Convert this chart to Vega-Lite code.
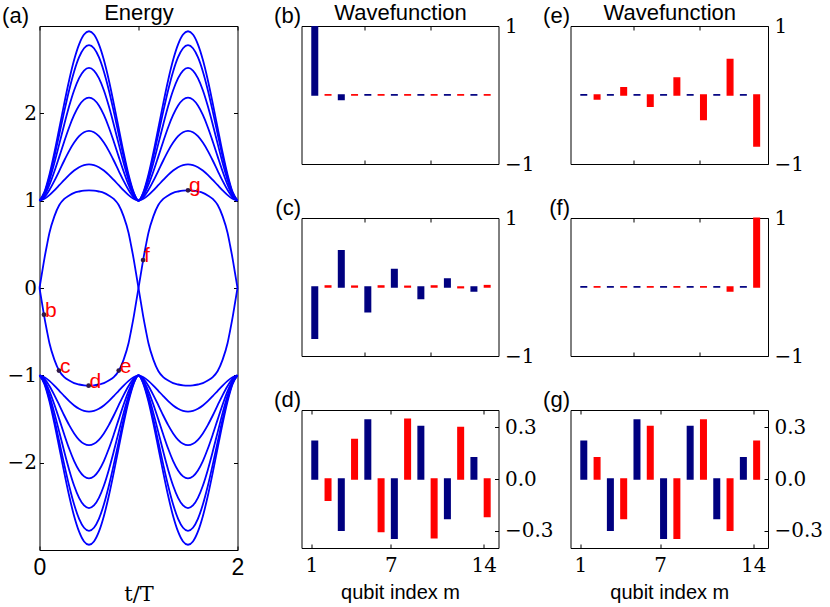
{
  "$schema": "https://vega.github.io/schema/vega-lite/v6.json",
  "background": "white",
  "padding": {"left": 0.5, "top": 0, "right": 0, "bottom": 0},
  "spacing": -13,
  "config": {
    "view": {"stroke": "#000000", "strokeWidth": 1},
    "axis": {"grid": false, "domain": false, "tickColor": "#000000", "tickSize": -4, "tickWidth": 1, "labelFont": "DejaVu Serif", "labelFontSize": 20, "labelColor": "#000000", "labelFlush": false, "labelOverlap": false, "titleFont": "Liberation Sans", "titleFontSize": 22, "titleFontWeight": "normal", "titleColor": "#000000"}
  },
  "datasets": {
    "bulk": [
      {"t":0,"U1":1,"U2":1,"U3":1,"U4":1,"U5":1,"U6":1,"L1":-1,"L2":-1,"L3":-1,"L4":-1,"L5":-1,"L6":-1},
      {"t":0.05,"U1":1.1,"U2":1.092,"U3":1.078,"U4":1.061,"U5":1.041,"U6":1.021,"L1":-1.1,"L2":-1.092,"L3":-1.078,"L4":-1.061,"L5":-1.041,"L6":-1.021},
      {"t":0.1,"U1":1.296,"U2":1.272,"U3":1.232,"U4":1.18,"U5":1.122,"U6":1.063,"L1":-1.296,"L2":-1.272,"L3":-1.232,"L4":-1.18,"L5":-1.122,"L6":-1.063},
      {"t":0.15,"U1":1.548,"U2":1.503,"U3":1.43,"U4":1.334,"U5":1.226,"U6":1.117,"L1":-1.548,"L2":-1.503,"L3":-1.43,"L4":-1.334,"L5":-1.226,"L6":-1.117},
      {"t":0.2,"U1":1.829,"U2":1.761,"U3":1.65,"U4":1.504,"U5":1.342,"U6":1.177,"L1":-1.829,"L2":-1.761,"L3":-1.65,"L4":-1.504,"L5":-1.342,"L6":-1.177},
      {"t":0.25,"U1":2.114,"U2":2.022,"U3":1.873,"U4":1.678,"U5":1.46,"U6":1.238,"L1":-2.114,"L2":-2.022,"L3":-1.873,"L4":-1.678,"L5":-1.46,"L6":-1.238},
      {"t":0.3,"U1":2.382,"U2":2.268,"U3":2.083,"U4":1.841,"U5":1.57,"U6":1.296,"L1":-2.382,"L2":-2.268,"L3":-2.083,"L4":-1.841,"L5":-1.57,"L6":-1.296},
      {"t":0.35,"U1":2.613,"U2":2.48,"U3":2.264,"U4":1.981,"U5":1.665,"U6":1.345,"L1":-2.613,"L2":-2.48,"L3":-2.264,"L4":-1.981,"L5":-1.665,"L6":-1.345},
      {"t":0.4,"U1":2.79,"U2":2.643,"U3":2.403,"U4":2.089,"U5":1.738,"U6":1.383,"L1":-2.79,"L2":-2.643,"L3":-2.403,"L4":-2.089,"L5":-1.738,"L6":-1.383},
      {"t":0.45,"U1":2.902,"U2":2.745,"U3":2.49,"U4":2.157,"U5":1.784,"U6":1.407,"L1":-2.902,"L2":-2.745,"L3":-2.49,"L4":-2.157,"L5":-1.784,"L6":-1.407},
      {"t":0.5,"U1":2.94,"U2":2.78,"U3":2.52,"U4":2.18,"U5":1.8,"U6":1.415,"L1":-2.94,"L2":-2.78,"L3":-2.52,"L4":-2.18,"L5":-1.8,"L6":-1.415},
      {"t":0.55,"U1":2.902,"U2":2.745,"U3":2.49,"U4":2.157,"U5":1.784,"U6":1.407,"L1":-2.902,"L2":-2.745,"L3":-2.49,"L4":-2.157,"L5":-1.784,"L6":-1.407},
      {"t":0.6,"U1":2.79,"U2":2.643,"U3":2.403,"U4":2.089,"U5":1.738,"U6":1.383,"L1":-2.79,"L2":-2.643,"L3":-2.403,"L4":-2.089,"L5":-1.738,"L6":-1.383},
      {"t":0.65,"U1":2.613,"U2":2.48,"U3":2.264,"U4":1.981,"U5":1.665,"U6":1.345,"L1":-2.613,"L2":-2.48,"L3":-2.264,"L4":-1.981,"L5":-1.665,"L6":-1.345},
      {"t":0.7,"U1":2.382,"U2":2.268,"U3":2.083,"U4":1.841,"U5":1.57,"U6":1.296,"L1":-2.382,"L2":-2.268,"L3":-2.083,"L4":-1.841,"L5":-1.57,"L6":-1.296},
      {"t":0.75,"U1":2.114,"U2":2.022,"U3":1.873,"U4":1.678,"U5":1.46,"U6":1.238,"L1":-2.114,"L2":-2.022,"L3":-1.873,"L4":-1.678,"L5":-1.46,"L6":-1.238},
      {"t":0.8,"U1":1.829,"U2":1.761,"U3":1.65,"U4":1.504,"U5":1.342,"U6":1.177,"L1":-1.829,"L2":-1.761,"L3":-1.65,"L4":-1.504,"L5":-1.342,"L6":-1.177},
      {"t":0.85,"U1":1.548,"U2":1.503,"U3":1.43,"U4":1.334,"U5":1.226,"U6":1.117,"L1":-1.548,"L2":-1.503,"L3":-1.43,"L4":-1.334,"L5":-1.226,"L6":-1.117},
      {"t":0.9,"U1":1.296,"U2":1.272,"U3":1.232,"U4":1.18,"U5":1.122,"U6":1.063,"L1":-1.296,"L2":-1.272,"L3":-1.232,"L4":-1.18,"L5":-1.122,"L6":-1.063},
      {"t":0.95,"U1":1.1,"U2":1.092,"U3":1.078,"U4":1.061,"U5":1.041,"U6":1.021,"L1":-1.1,"L2":-1.092,"L3":-1.078,"L4":-1.061,"L5":-1.041,"L6":-1.021},
      {"t":1,"U1":1,"U2":1,"U3":1,"U4":1,"U5":1,"U6":1,"L1":-1,"L2":-1,"L3":-1,"L4":-1,"L5":-1,"L6":-1},
      {"t":1.05,"U1":1.1,"U2":1.092,"U3":1.078,"U4":1.061,"U5":1.041,"U6":1.021,"L1":-1.1,"L2":-1.092,"L3":-1.078,"L4":-1.061,"L5":-1.041,"L6":-1.021},
      {"t":1.1,"U1":1.296,"U2":1.272,"U3":1.232,"U4":1.18,"U5":1.122,"U6":1.063,"L1":-1.296,"L2":-1.272,"L3":-1.232,"L4":-1.18,"L5":-1.122,"L6":-1.063},
      {"t":1.15,"U1":1.548,"U2":1.503,"U3":1.43,"U4":1.334,"U5":1.226,"U6":1.117,"L1":-1.548,"L2":-1.503,"L3":-1.43,"L4":-1.334,"L5":-1.226,"L6":-1.117},
      {"t":1.2,"U1":1.829,"U2":1.761,"U3":1.65,"U4":1.504,"U5":1.342,"U6":1.177,"L1":-1.829,"L2":-1.761,"L3":-1.65,"L4":-1.504,"L5":-1.342,"L6":-1.177},
      {"t":1.25,"U1":2.114,"U2":2.022,"U3":1.873,"U4":1.678,"U5":1.46,"U6":1.238,"L1":-2.114,"L2":-2.022,"L3":-1.873,"L4":-1.678,"L5":-1.46,"L6":-1.238},
      {"t":1.3,"U1":2.382,"U2":2.268,"U3":2.083,"U4":1.841,"U5":1.57,"U6":1.296,"L1":-2.382,"L2":-2.268,"L3":-2.083,"L4":-1.841,"L5":-1.57,"L6":-1.296},
      {"t":1.35,"U1":2.613,"U2":2.48,"U3":2.264,"U4":1.981,"U5":1.665,"U6":1.345,"L1":-2.613,"L2":-2.48,"L3":-2.264,"L4":-1.981,"L5":-1.665,"L6":-1.345},
      {"t":1.4,"U1":2.79,"U2":2.643,"U3":2.403,"U4":2.089,"U5":1.738,"U6":1.383,"L1":-2.79,"L2":-2.643,"L3":-2.403,"L4":-2.089,"L5":-1.738,"L6":-1.383},
      {"t":1.45,"U1":2.902,"U2":2.745,"U3":2.49,"U4":2.157,"U5":1.784,"U6":1.407,"L1":-2.902,"L2":-2.745,"L3":-2.49,"L4":-2.157,"L5":-1.784,"L6":-1.407},
      {"t":1.5,"U1":2.94,"U2":2.78,"U3":2.52,"U4":2.18,"U5":1.8,"U6":1.415,"L1":-2.94,"L2":-2.78,"L3":-2.52,"L4":-2.18,"L5":-1.8,"L6":-1.415},
      {"t":1.55,"U1":2.902,"U2":2.745,"U3":2.49,"U4":2.157,"U5":1.784,"U6":1.407,"L1":-2.902,"L2":-2.745,"L3":-2.49,"L4":-2.157,"L5":-1.784,"L6":-1.407},
      {"t":1.6,"U1":2.79,"U2":2.643,"U3":2.403,"U4":2.089,"U5":1.738,"U6":1.383,"L1":-2.79,"L2":-2.643,"L3":-2.403,"L4":-2.089,"L5":-1.738,"L6":-1.383},
      {"t":1.65,"U1":2.613,"U2":2.48,"U3":2.264,"U4":1.981,"U5":1.665,"U6":1.345,"L1":-2.613,"L2":-2.48,"L3":-2.264,"L4":-1.981,"L5":-1.665,"L6":-1.345},
      {"t":1.7,"U1":2.382,"U2":2.268,"U3":2.083,"U4":1.841,"U5":1.57,"U6":1.296,"L1":-2.382,"L2":-2.268,"L3":-2.083,"L4":-1.841,"L5":-1.57,"L6":-1.296},
      {"t":1.75,"U1":2.114,"U2":2.022,"U3":1.873,"U4":1.678,"U5":1.46,"U6":1.238,"L1":-2.114,"L2":-2.022,"L3":-1.873,"L4":-1.678,"L5":-1.46,"L6":-1.238},
      {"t":1.8,"U1":1.829,"U2":1.761,"U3":1.65,"U4":1.504,"U5":1.342,"U6":1.177,"L1":-1.829,"L2":-1.761,"L3":-1.65,"L4":-1.504,"L5":-1.342,"L6":-1.177},
      {"t":1.85,"U1":1.548,"U2":1.503,"U3":1.43,"U4":1.334,"U5":1.226,"U6":1.117,"L1":-1.548,"L2":-1.503,"L3":-1.43,"L4":-1.334,"L5":-1.226,"L6":-1.117},
      {"t":1.9,"U1":1.296,"U2":1.272,"U3":1.232,"U4":1.18,"U5":1.122,"U6":1.063,"L1":-1.296,"L2":-1.272,"L3":-1.232,"L4":-1.18,"L5":-1.122,"L6":-1.063},
      {"t":1.95,"U1":1.1,"U2":1.092,"U3":1.078,"U4":1.061,"U5":1.041,"U6":1.021,"L1":-1.1,"L2":-1.092,"L3":-1.078,"L4":-1.061,"L5":-1.041,"L6":-1.021},
      {"t":2,"U1":1,"U2":1,"U3":1,"U4":1,"U5":1,"U6":1,"L1":-1,"L2":-1,"L3":-1,"L4":-1,"L5":-1,"L6":-1}
    ],
    "edge": [
      {"t":0,"A":0,"B":0},{"t":0.025,"A":0.17,"B":-0.17},{"t":0.05,"A":0.34,"B":-0.34},{"t":0.075,"A":0.49,"B":-0.49},{"t":0.1,"A":0.63,"B":-0.63},{"t":0.15,"A":0.82,"B":-0.82},{"t":0.2,"A":0.95,"B":-0.95},{"t":0.25,"A":1.02,"B":-1.02},{"t":0.3,"A":1.06,"B":-1.06},{"t":0.35,"A":1.09,"B":-1.09},{"t":0.4,"A":1.105,"B":-1.105},{"t":0.45,"A":1.115,"B":-1.115},{"t":0.5,"A":1.118,"B":-1.118},{"t":0.55,"A":1.115,"B":-1.115},{"t":0.6,"A":1.105,"B":-1.105},{"t":0.65,"A":1.09,"B":-1.09},{"t":0.7,"A":1.06,"B":-1.06},{"t":0.75,"A":1.02,"B":-1.02},{"t":0.8,"A":0.95,"B":-0.95},{"t":0.85,"A":0.82,"B":-0.82},{"t":0.9,"A":0.63,"B":-0.63},{"t":0.925,"A":0.49,"B":-0.49},{"t":0.95,"A":0.34,"B":-0.34},{"t":0.975,"A":0.17,"B":-0.17},{"t":1,"A":0,"B":0},
      {"t":1,"C":0,"D":0},{"t":1.025,"C":0.17,"D":-0.17},{"t":1.05,"C":0.34,"D":-0.34},{"t":1.075,"C":0.49,"D":-0.49},{"t":1.1,"C":0.63,"D":-0.63},{"t":1.15,"C":0.82,"D":-0.82},{"t":1.2,"C":0.95,"D":-0.95},{"t":1.25,"C":1.02,"D":-1.02},{"t":1.3,"C":1.06,"D":-1.06},{"t":1.35,"C":1.09,"D":-1.09},{"t":1.4,"C":1.105,"D":-1.105},{"t":1.45,"C":1.115,"D":-1.115},{"t":1.5,"C":1.118,"D":-1.118},{"t":1.55,"C":1.115,"D":-1.115},{"t":1.6,"C":1.105,"D":-1.105},{"t":1.65,"C":1.09,"D":-1.09},{"t":1.7,"C":1.06,"D":-1.06},{"t":1.75,"C":1.02,"D":-1.02},{"t":1.8,"C":0.95,"D":-0.95},{"t":1.85,"C":0.82,"D":-0.82},{"t":1.9,"C":0.63,"D":-0.63},{"t":1.925,"C":0.49,"D":-0.49},{"t":1.95,"C":0.34,"D":-0.34},{"t":1.975,"C":0.17,"D":-0.17},{"t":2,"C":0,"D":0}
    ],
    "markers": [
      {"t":0.045,"e":-0.305,"lab":"b"},
      {"t":0.196,"e":-0.946,"lab":"c"},
      {"t":0.496,"e":-1.118,"lab":"d"},
      {"t":0.8,"e":-0.946,"lab":"e"},
      {"t":1.046,"e":0.32,"lab":"f"},
      {"t":1.5,"e":1.118,"lab":"g"}
    ],
    "wave": [
      {"p":"b","m":1,"a":0.99},{"p":"b","m":2,"a":0.003},{"p":"b","m":3,"a":-0.065},{"p":"b","m":4,"a":0.003},{"p":"b","m":5,"a":0.004},{"p":"b","m":6,"a":0.003},{"p":"b","m":7,"a":0.003},{"p":"b","m":8,"a":0.003},{"p":"b","m":9,"a":0.003},{"p":"b","m":10,"a":0.003},{"p":"b","m":11,"a":0.003},{"p":"b","m":12,"a":0.003},{"p":"b","m":13,"a":0.003},{"p":"b","m":14,"a":0.003},
      {"p":"c","m":1,"a":-0.742},{"p":"c","m":2,"a":0.015},{"p":"c","m":3,"a":0.524},{"p":"c","m":4,"a":0.012},{"p":"c","m":5,"a":-0.36},{"p":"c","m":6,"a":0.015},{"p":"c","m":7,"a":0.252},{"p":"c","m":8,"a":0.01},{"p":"c","m":9,"a":-0.165},{"p":"c","m":10,"a":0.015},{"p":"c","m":11,"a":0.116},{"p":"c","m":12,"a":-0.01},{"p":"c","m":13,"a":-0.058},{"p":"c","m":14,"a":0.02},
      {"p":"d","m":1,"a":0.219},{"p":"d","m":2,"a":-0.123},{"p":"d","m":3,"a":-0.297},{"p":"d","m":4,"a":0.229},{"p":"d","m":5,"a":0.342},{"p":"d","m":6,"a":-0.305},{"p":"d","m":7,"a":-0.344},{"p":"d","m":8,"a":0.346},{"p":"d","m":9,"a":0.305},{"p":"d","m":10,"a":-0.34},{"p":"d","m":11,"a":-0.229},{"p":"d","m":12,"a":0.299},{"p":"d","m":13,"a":0.123},{"p":"d","m":14,"a":-0.217},
      {"p":"e","m":1,"a":0.005},{"p":"e","m":2,"a":-0.058},{"p":"e","m":3,"a":0.003},{"p":"e","m":4,"a":0.105},{"p":"e","m":5,"a":0.003},{"p":"e","m":6,"a":-0.163},{"p":"e","m":7,"a":0.003},{"p":"e","m":8,"a":0.245},{"p":"e","m":9,"a":0.003},{"p":"e","m":10,"a":-0.355},{"p":"e","m":11,"a":0.003},{"p":"e","m":12,"a":0.513},{"p":"e","m":13,"a":0.003},{"p":"e","m":14,"a":-0.738},
      {"p":"f","m":1,"a":0.003},{"p":"f","m":2,"a":0.003},{"p":"f","m":3,"a":0.003},{"p":"f","m":4,"a":0.003},{"p":"f","m":5,"a":0.003},{"p":"f","m":6,"a":0.003},{"p":"f","m":7,"a":0.003},{"p":"f","m":8,"a":0.003},{"p":"f","m":9,"a":0.003},{"p":"f","m":10,"a":0.003},{"p":"f","m":11,"a":0.003},{"p":"f","m":12,"a":-0.058},{"p":"f","m":13,"a":0.003},{"p":"f","m":14,"a":0.995},
      {"p":"g","m":1,"a":0.219},{"p":"g","m":2,"a":0.123},{"p":"g","m":3,"a":-0.297},{"p":"g","m":4,"a":-0.229},{"p":"g","m":5,"a":0.342},{"p":"g","m":6,"a":0.305},{"p":"g","m":7,"a":-0.344},{"p":"g","m":8,"a":-0.344},{"p":"g","m":9,"a":0.305},{"p":"g","m":10,"a":0.342},{"p":"g","m":11,"a":-0.229},{"p":"g","m":12,"a":-0.297},{"p":"g","m":13,"a":0.123},{"p":"g","m":14,"a":0.219}
    ]
  },
  "hconcat": [
    {
      "width": 198, "height": 524,
      "layer": [
        {
          "data": {"name": "bulk"},
          "transform": [{"fold": ["U1","U2","U3","U4","U5","U6","L1","L2","L3","L4","L5","L6"], "as": ["s","e"]}],
          "mark": {"type": "line", "color": "#0000ff", "strokeWidth": 1.8, "interpolate": "monotone"},
          "encoding": {
            "x": {"field": "t", "type": "quantitative", "scale": {"domain": [0, 2], "nice": false}, "axis": {"orient": "bottom", "values": [0, 1, 2], "format": "d", "labelFont": "Liberation Sans", "labelFontSize": 23, "labelPadding": 10, "title": "t/T", "titleFont": "DejaVu Serif", "titleFontSize": 21, "titlePadding": 4}},
            "y": {"field": "e", "type": "quantitative", "scale": {"domain": [-3, 3], "nice": false}, "axis": {"orient": "left", "values": [-2, -1, 0, 1, 2], "format": "d", "labelPadding": 7, "title": "(a)", "titleAngle": 0, "titleX": -11, "titleY": -4, "titleAlign": "right", "titleBaseline": "alphabetic"}},
            "detail": {"field": "s"}
          }
        },
        {
          "data": {"name": "edge"},
          "transform": [{"fold": ["A","B","C","D"], "as": ["s","e"]}, {"filter": "isValid(datum.e)"}],
          "mark": {"type": "line", "color": "#0000ff", "strokeWidth": 1.8, "interpolate": "monotone"},
          "encoding": {
            "x": {"field": "t", "type": "quantitative", "axis": null},
            "y": {"field": "e", "type": "quantitative", "axis": null},
            "detail": {"field": "s"}
          }
        },
        {
          "data": {"name": "markers"},
          "mark": {"type": "point", "filled": true, "size": 22, "opacity": 1, "color": "#301848"},
          "encoding": {
            "x": {"field": "t", "type": "quantitative", "axis": {"orient": "top", "values": [0, 1, 2], "labels": false, "title": "Energy", "titleX": 99, "titleY": -7, "titleAlign": "center", "titleBaseline": "alphabetic", "titleAngle": 0}},
            "y": {"field": "e", "type": "quantitative", "axis": {"orient": "right", "values": [-2, -1, 0, 1, 2], "labels": false, "title": " ", "titleOpacity": 0, "titleAngle": 0, "titleX": 46.9, "titleY": 300, "titleAlign": "right"}}
          }
        },
        {
          "data": {"name": "markers"},
          "mark": {"type": "text", "color": "#ff0000", "font": "Liberation Sans", "fontSize": 21, "align": "left", "baseline": "alphabetic", "dx": 1, "dy": 2},
          "encoding": {
            "x": {"field": "t", "type": "quantitative", "axis": null},
            "y": {"field": "e", "type": "quantitative", "axis": null},
            "text": {"field": "lab"}
          }
        }
      ],
      "resolve": {"axis": {"x": "independent", "y": "independent"}}
    },
    {
      "spacing": 20,
      "vconcat": [
        {
          "width": 197, "height": 138,
          "data": {"name": "wave"},
          "transform": [{"filter": "datum.p == 'b'"}],
          "layer": [
            {
              "mark": {"type": "bar", "width": 5.5, "xOffset": 3.5, "strokeWidth": 1.5},
              "encoding": {
                "x": {"field": "m", "type": "quantitative", "scale": {"domain": [0.64, 14.74], "nice": false, "zero": false}, "axis": {"orient": "bottom", "values": [5, 10], "labels": false, "title": null}},
                "y": {"field": "a", "type": "quantitative", "scale": {"domain": [-1, 1], "nice": false}, "axis": {"orient": "right", "values": [-1, 0, 1], "format": "d", "labelPadding": 10, "title": null}},
                "y2": {"datum": 0},
                "color": {"condition": {"test": "datum.m % 2 == 1", "value": "#000080"}, "value": "#ff0000"},
                "stroke": {"condition": {"test": "datum.m % 2 == 1", "value": "#000080"}, "value": "#ff0000"}
              }
            },
            {
              "mark": {"type": "bar", "opacity": 0},
              "encoding": {
                "x": {"field": "m", "type": "quantitative", "axis": {"orient": "top", "values": [5, 10], "labels": false, "title": "Wavefunction", "titleX": 98.5, "titleY": -7, "titleAlign": "center", "titleBaseline": "alphabetic", "titleAngle": 0}},
                "y": {"field": "a", "type": "quantitative", "axis": {"orient": "left", "ticks": false, "labels": false, "minExtent": 0, "title": "(b)", "titleAngle": 0, "titleX": -1, "titleY": -4, "titleAlign": "right", "titleBaseline": "alphabetic"}},
                "y2": {"datum": 0}
              }
            }
          ],
          "resolve": {"axis": {"x": "independent", "y": "independent"}}
        },
        {
          "width": 197, "height": 138,
          "data": {"name": "wave"},
          "transform": [{"filter": "datum.p == 'c'"}],
          "layer": [
            {
              "mark": {"type": "bar", "width": 5.5, "xOffset": 3.5, "strokeWidth": 1.5},
              "encoding": {
                "x": {"field": "m", "type": "quantitative", "scale": {"domain": [0.64, 14.74], "nice": false, "zero": false}, "axis": {"orient": "bottom", "values": [5, 10], "labels": false, "title": null}},
                "y": {"field": "a", "type": "quantitative", "scale": {"domain": [-1, 1], "nice": false}, "axis": {"orient": "right", "values": [-1, 0, 1], "format": "d", "labelPadding": 10, "title": null}},
                "y2": {"datum": 0},
                "color": {"condition": {"test": "datum.m % 2 == 1", "value": "#000080"}, "value": "#ff0000"},
                "stroke": {"condition": {"test": "datum.m % 2 == 1", "value": "#000080"}, "value": "#ff0000"}
              }
            },
            {
              "mark": {"type": "bar", "opacity": 0},
              "encoding": {
                "x": {"field": "m", "type": "quantitative", "axis": {"orient": "top", "values": [5, 10], "labels": false, "title": null}},
                "y": {"field": "a", "type": "quantitative", "axis": {"orient": "left", "ticks": false, "labels": false, "minExtent": 0, "title": "(c)", "titleAngle": 0, "titleX": -1, "titleY": -4, "titleAlign": "right", "titleBaseline": "alphabetic"}},
                "y2": {"datum": 0}
              }
            }
          ],
          "resolve": {"axis": {"x": "independent", "y": "independent"}}
        },
        {
          "width": 197, "height": 138,
          "data": {"name": "wave"},
          "transform": [{"filter": "datum.p == 'd'"}],
          "layer": [
            {
              "mark": {"type": "bar", "width": 5.5, "xOffset": 3.5, "strokeWidth": 1.5},
              "encoding": {
                "x": {"field": "m", "type": "quantitative", "scale": {"domain": [0.64, 14.74], "nice": false, "zero": false}, "axis": {"orient": "bottom", "values": [1, 7, 14], "format": "d", "labelPadding": 11, "title": "qubit index m", "titleFontSize": 20, "titlePadding": 7}},
                "y": {"field": "a", "type": "quantitative", "scale": {"domain": [-0.4, 0.4], "nice": false}, "axis": {"orient": "right", "values": [-0.3, 0, 0.3], "format": ".1f", "labelPadding": 10, "title": null}},
                "y2": {"datum": 0},
                "color": {"condition": {"test": "datum.m % 2 == 1", "value": "#000080"}, "value": "#ff0000"},
                "stroke": {"condition": {"test": "datum.m % 2 == 1", "value": "#000080"}, "value": "#ff0000"}
              }
            },
            {
              "mark": {"type": "bar", "opacity": 0},
              "encoding": {
                "x": {"field": "m", "type": "quantitative", "axis": {"orient": "top", "values": [1, 7, 14], "labels": false, "title": null}},
                "y": {"field": "a", "type": "quantitative", "axis": {"orient": "left", "ticks": false, "labels": false, "minExtent": 0, "title": "(d)", "titleAngle": 0, "titleX": -1, "titleY": -4, "titleAlign": "right", "titleBaseline": "alphabetic"}},
                "y2": {"datum": 0}
              }
            }
          ],
          "resolve": {"axis": {"x": "independent", "y": "independent"}}
        }
      ]
    },
    {
      "spacing": 20,
      "vconcat": [
        {
          "width": 197.5, "height": 138,
          "data": {"name": "wave"},
          "transform": [{"filter": "datum.p == 'e'"}],
          "layer": [
            {
              "mark": {"type": "bar", "width": 5.5, "xOffset": 3.5, "strokeWidth": 1.5},
              "encoding": {
                "x": {"field": "m", "type": "quantitative", "scale": {"domain": [0.64, 14.74], "nice": false, "zero": false}, "axis": {"orient": "bottom", "values": [5, 10], "labels": false, "title": null}},
                "y": {"field": "a", "type": "quantitative", "scale": {"domain": [-1, 1], "nice": false}, "axis": {"orient": "right", "values": [-1, 0, 1], "format": "d", "labelPadding": 10, "title": null}},
                "y2": {"datum": 0},
                "color": {"condition": {"test": "datum.m % 2 == 1", "value": "#000080"}, "value": "#ff0000"},
                "stroke": {"condition": {"test": "datum.m % 2 == 1", "value": "#000080"}, "value": "#ff0000"}
              }
            },
            {
              "mark": {"type": "bar", "opacity": 0},
              "encoding": {
                "x": {"field": "m", "type": "quantitative", "axis": {"orient": "top", "values": [5, 10], "labels": false, "title": "Wavefunction", "titleX": 98.75, "titleY": -7, "titleAlign": "center", "titleBaseline": "alphabetic", "titleAngle": 0}},
                "y": {"field": "a", "type": "quantitative", "axis": {"orient": "left", "ticks": false, "labels": false, "minExtent": 0, "title": "(e)", "titleAngle": 0, "titleX": -1, "titleY": -4, "titleAlign": "right", "titleBaseline": "alphabetic"}},
                "y2": {"datum": 0}
              }
            }
          ],
          "resolve": {"axis": {"x": "independent", "y": "independent"}}
        },
        {
          "width": 197.5, "height": 138,
          "data": {"name": "wave"},
          "transform": [{"filter": "datum.p == 'f'"}],
          "layer": [
            {
              "mark": {"type": "bar", "width": 5.5, "xOffset": 3.5, "strokeWidth": 1.5},
              "encoding": {
                "x": {"field": "m", "type": "quantitative", "scale": {"domain": [0.64, 14.74], "nice": false, "zero": false}, "axis": {"orient": "bottom", "values": [5, 10], "labels": false, "title": null}},
                "y": {"field": "a", "type": "quantitative", "scale": {"domain": [-1, 1], "nice": false}, "axis": {"orient": "right", "values": [-1, 0, 1], "format": "d", "labelPadding": 10, "title": null}},
                "y2": {"datum": 0},
                "color": {"condition": {"test": "datum.m % 2 == 1", "value": "#000080"}, "value": "#ff0000"},
                "stroke": {"condition": {"test": "datum.m % 2 == 1", "value": "#000080"}, "value": "#ff0000"}
              }
            },
            {
              "mark": {"type": "bar", "opacity": 0},
              "encoding": {
                "x": {"field": "m", "type": "quantitative", "axis": {"orient": "top", "values": [5, 10], "labels": false, "title": null}},
                "y": {"field": "a", "type": "quantitative", "axis": {"orient": "left", "ticks": false, "labels": false, "minExtent": 0, "title": " (f)", "titleAngle": 0, "titleX": -1, "titleY": -4, "titleAlign": "right", "titleBaseline": "alphabetic"}},
                "y2": {"datum": 0}
              }
            }
          ],
          "resolve": {"axis": {"x": "independent", "y": "independent"}}
        },
        {
          "width": 197.5, "height": 138,
          "data": {"name": "wave"},
          "transform": [{"filter": "datum.p == 'g'"}],
          "layer": [
            {
              "mark": {"type": "bar", "width": 5.5, "xOffset": 3.5, "strokeWidth": 1.5},
              "encoding": {
                "x": {"field": "m", "type": "quantitative", "scale": {"domain": [0.64, 14.74], "nice": false, "zero": false}, "axis": {"orient": "bottom", "values": [1, 7, 14], "format": "d", "labelPadding": 11, "title": "qubit index m", "titleFontSize": 20, "titlePadding": 7}},
                "y": {"field": "a", "type": "quantitative", "scale": {"domain": [-0.4, 0.4], "nice": false}, "axis": {"orient": "right", "values": [-0.3, 0, 0.3], "format": ".1f", "labelPadding": 10, "title": null}},
                "y2": {"datum": 0},
                "color": {"condition": {"test": "datum.m % 2 == 1", "value": "#000080"}, "value": "#ff0000"},
                "stroke": {"condition": {"test": "datum.m % 2 == 1", "value": "#000080"}, "value": "#ff0000"}
              }
            },
            {
              "mark": {"type": "bar", "opacity": 0},
              "encoding": {
                "x": {"field": "m", "type": "quantitative", "axis": {"orient": "top", "values": [1, 7, 14], "labels": false, "title": null}},
                "y": {"field": "a", "type": "quantitative", "axis": {"orient": "left", "ticks": false, "labels": false, "minExtent": 0, "title": "(g)", "titleAngle": 0, "titleX": -1, "titleY": -4, "titleAlign": "right", "titleBaseline": "alphabetic"}},
                "y2": {"datum": 0}
              }
            }
          ],
          "resolve": {"axis": {"x": "independent", "y": "independent"}}
        }
      ]
    }
  ]
}
